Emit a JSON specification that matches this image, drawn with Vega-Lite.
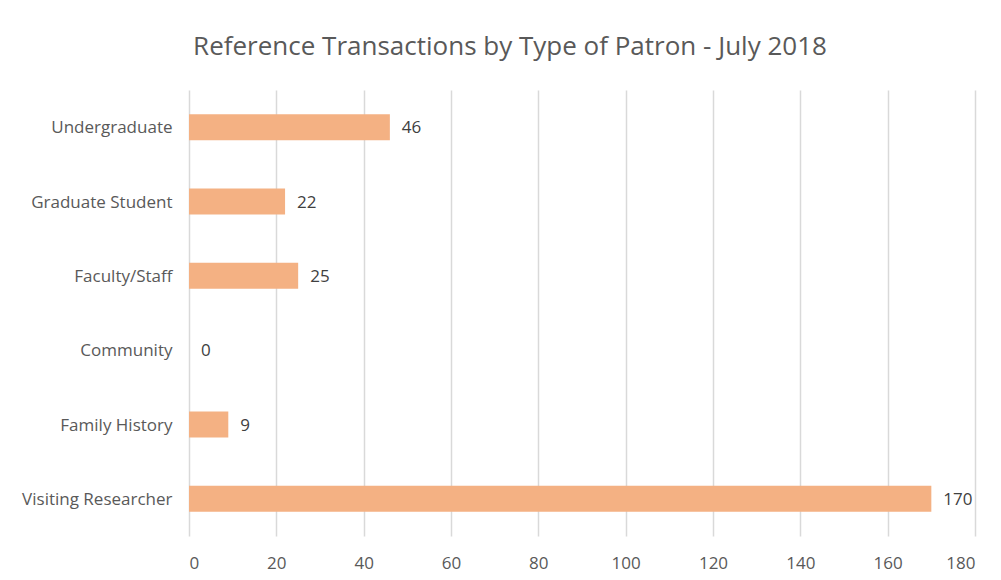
{
  "$schema": "https://vega.github.io/schema/vega-lite/v6.json",
  "autosize": {"type": "none"},
  "padding": {"left": 189, "top": 90, "right": 26, "bottom": 44},
  "width": 786,
  "height": 446,
  "background": "white",
  "title": {
    "text": "Reference Transactions by Type of Patron - July 2018",
    "font": "Open Sans",
    "fontSize": 26,
    "fontWeight": "normal",
    "color": "#595959",
    "anchor": "middle",
    "dx": -72,
    "baseline": "alphabetic",
    "offset": 9
  },
  "data": {
    "values": [
      {"type": "Undergraduate", "count": 46},
      {"type": "Graduate Student", "count": 22},
      {"type": "Faculty/Staff", "count": 25},
      {"type": "Community", "count": 0},
      {"type": "Family History", "count": 9},
      {"type": "Visiting Researcher", "count": 170}
    ]
  },
  "encoding": {
    "y": {
      "field": "type",
      "type": "nominal",
      "sort": null,
      "scale": {"paddingInner": 0.65, "paddingOuter": 0.325},
      "axis": {
        "title": null,
        "domain": false,
        "ticks": false,
        "labelPadding": 17,
        "labelFont": "Open Sans",
        "labelFontSize": 17,
        "labelColor": "#595959",
        "labelOffset": 1,
        "grid": false
      }
    },
    "x": {
      "field": "count",
      "type": "quantitative",
      "scale": {"domain": [0, 180], "nice": false},
      "axis": {
        "title": null,
        "values": [0, 20, 40, 60, 80, 100, 120, 140, 160, 180],
        "domain": false,
        "ticks": false,
        "labelPadding": 19,
        "labelFont": "Open Sans",
        "labelFontSize": 17,
        "labelColor": "#595959",
        "grid": true,
        "gridColor": "#D9D9D9",
        "gridWidth": 1.5
      }
    }
  },
  "layer": [
    {"mark": {"type": "bar", "color": "#F4B183"}},
    {
      "mark": {"type": "text", "align": "left", "dx": 12, "dy": 1, "font": "Open Sans", "fontSize": 17, "color": "#404040"},
      "encoding": {"text": {"field": "count", "type": "quantitative"}}
    }
  ],
  "config": {"view": {"stroke": null}}
}
